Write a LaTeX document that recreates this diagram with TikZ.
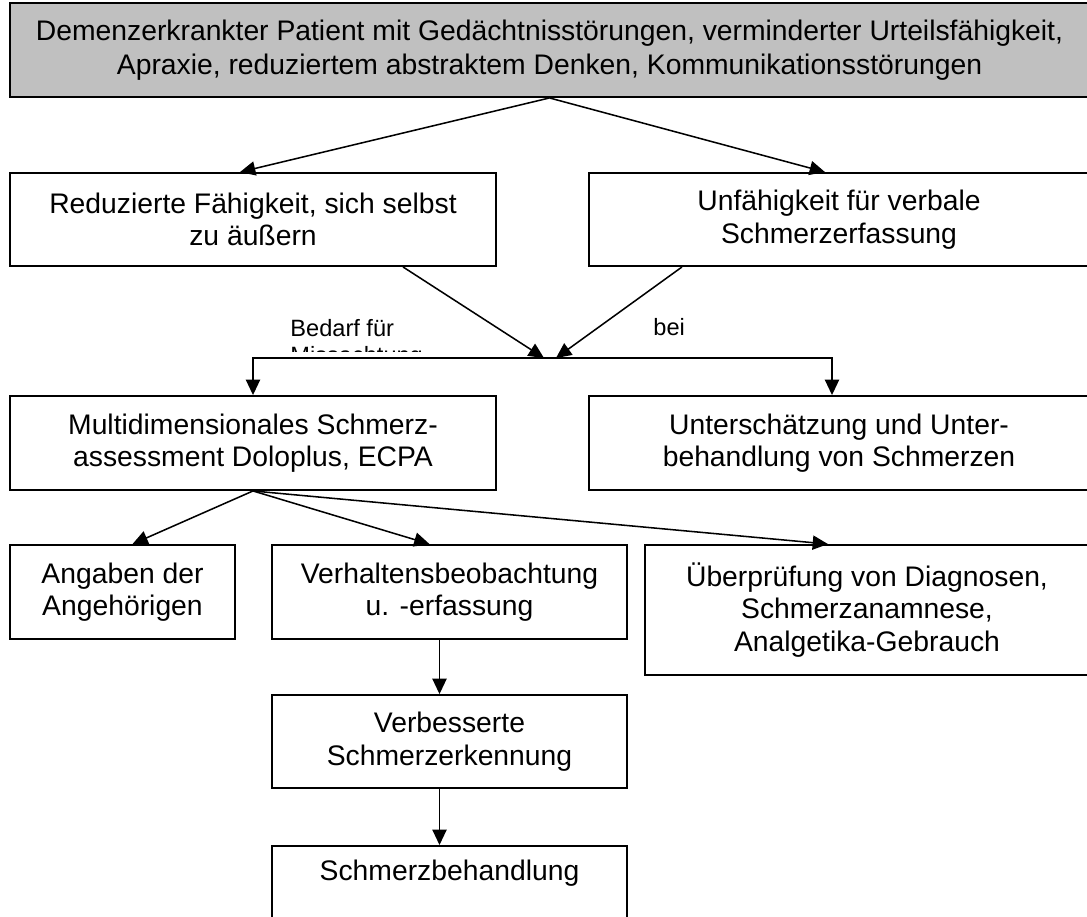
\documentclass[tikz,border=0pt]{standalone}
\usepackage{fontspec}
\setmainfont{Liberation Sans}
\usetikzlibrary{arrows.meta}
\definecolor{boxgray}{RGB}{192,192,192}

\begin{document}
\begin{tikzpicture}[x=0.424pt,y=0.424pt,yscale=-1,xscale=1,
    box/.style 2 args={draw, line width=0.8pt, align=center, inner sep=0pt,
      minimum width=#1*0.424pt, minimum height=#2*0.424pt,
      font=\fontsize{12}{13.8}\selectfont},
    arr/.style={-{Triangle[length=6.5pt,width=6pt]}, line width=0.65pt},
    lbl/.style={inner sep=0pt, align=left, font=\fontsize{10}{11.5}\selectfont}]
        \clip (0,0) rectangle (1087,916);

        % Boxes
        \node [box={1079}{94}, fill=boxgray, font=\fontsize{12}{14.4}\selectfont] (top) at (549.5,50) {Demenzerkrankter Patient mit Gedächtnisstörungen, verminderter Urteilsfähigkeit,\\Apraxie, reduziertem abstraktem Denken, Kommunikationsstörungen};
        \node [box={486}{93}] (red) at (253,219.5) {Reduzierte Fähigkeit, sich selbst\\zu äußern};
        \node [box={500}{93}] (unf) at (839,219.5) {Unfähigkeit für verbale\\Schmerzerfassung};
        \node [box={486}{94}] (multi) at (253,443) {Multidimensionales Schmerz-\\assessment Doloplus, ECPA};
        \node [box={500}{94}] (unter) at (839,443) {Unterschätzung und Unter-\\behandlung von Schmerzen};
        \node [box={225}{94}] (ang) at (122.5,592) {Angaben der\\Angehörigen};
        \node [box={355}{94}] (verh) at (449.5,592) {Verhaltensbeobachtung\\u. -erfassung};
        \node [box={444}{130}] (uber) at (867,610) {Überprüfung von Diagnosen,\\Schmerzanamnese,\\Analgetika-Gebrauch};
        \node [box={355}{93}] (verb) at (449.5,741.5) {Verbesserte\\Schmerzerkennung};
        \node [box={355}{10}, anchor=north, text height=14.8pt, text depth=25pt] (schm) at (449.5,845) {Schmerzbehandlung};

        % Labels
        \begin{scope}
          \clip (280,300) rectangle (420,351);
          \node [lbl, anchor=north west] (bedarf) at (290,319) {Bedarf für\\Missachtung};
        \end{scope}
        \node [lbl, anchor=north west] (bei) at (653,318) {bei};

        % Connectors
        \coordinate (m) at (550,358);
        \draw [arr] (top.south) -- ([shift={(-13,0)}]red.north);
        \draw [arr] (top.south) -- ([shift={(-14,0)}]unf.north);
        \draw [arr] ([shift={(150,0)}]red.south) -- ([shift={(-6,0)}]m);
        \draw [arr] ([shift={(-157,0)}]unf.south) -- ([shift={(6,0)}]m);
        \draw [arr] (m) -| (multi.north);
        \draw [arr] (m) -| ([shift={(-7,0)}]unter.north);
        \draw [arr] (multi.south) -- ([shift={(10,0)}]ang.north);
        \draw [arr] (multi.south) -- ([shift={(-20,0)}]verh.north);
        \draw [arr] (multi.south) -- ([shift={(-39,0)}]uber.north);
        \draw [arr] ([shift={(-10,0)}]verh.south) -- ([shift={(-10,0)}]verb.north);
        \draw [arr] ([shift={(-10,0)}]verb.south) -- ([shift={(-10,0)}]schm.north);

\end{tikzpicture}
\end{document}
